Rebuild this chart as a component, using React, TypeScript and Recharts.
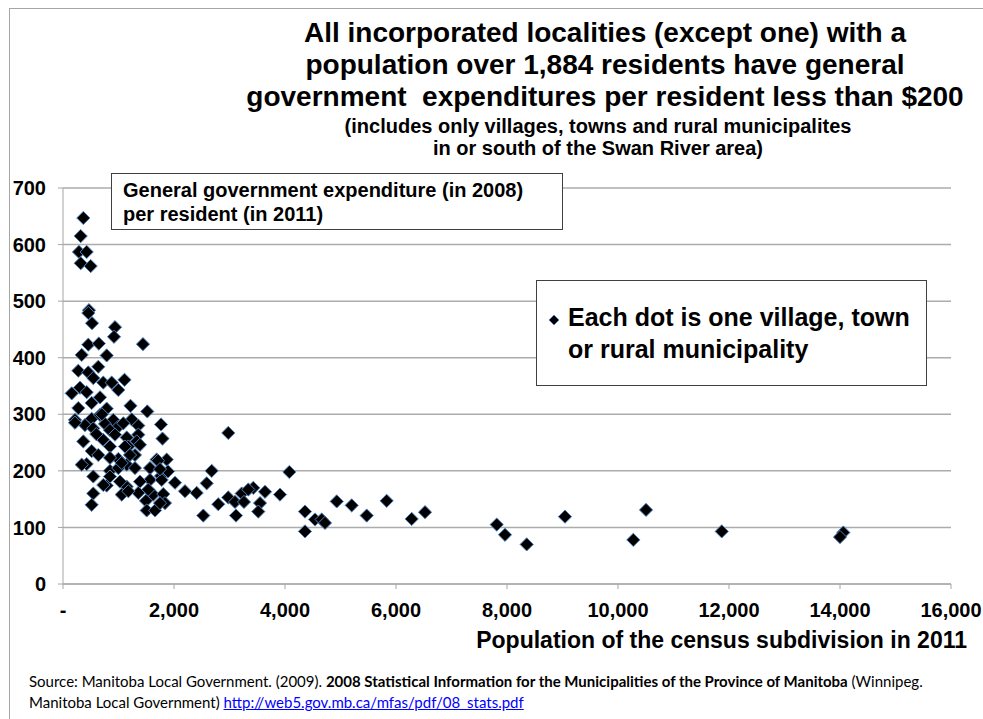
import { ScatterChart, Scatter, XAxis, YAxis, CartesianGrid } from 'recharts'

// population of the census subdivision (2011)
const population = [
  366, 319, 288, 427, 319, 499, 468, 456, 523, 937, 919, 1441, 456, 645, 787, 337,
  636, 276, 456, 546, 1108, 726, 877, 157, 306, 427, 996, 667, 517, 276, 787, 1216,
  1519, 216, 517, 667, 906, 1238, 1766, 396, 546, 757, 996, 1357, 1087, 847, 366, 721,
  937, 1148, 1357, 1793, 1328, 2978, 517, 847, 1177, 1387, 636, 996, 1297, 427, 847, 1688,
  1868, 337, 1148, 1297, 1568, 847, 996, 1058, 2679, 4078, 546, 1766, 1892, 1568, 1387, 1778,
  2018, 2589, 787, 1148, 1027, 726, 1357, 1627, 1807, 2198, 2409, 546, 1058, 3429, 3640, 3910,
  2978, 3220, 1537, 1495, 1838, 517, 2798, 3099, 3261, 3550, 1508, 1658, 3519, 2528, 3117, 4360,
  4360, 4541, 4661, 4721, 4932, 5202, 5472, 5832, 6283, 6523, 7815, 7964, 8355, 9045, 10276, 10505,
  11869, 14060, 14000, 1117, 1207, 1712, 1748, 1748, 1177, 3339, 216, 847, 600, 700,
]

// general government expenditure (2008) per resident (2011), $
const spendPerResident = [
  647, 615, 587, 587, 567, 562, 484, 479, 461, 454, 437, 424, 423, 425, 404, 405,
  384, 377, 374, 364, 361, 356, 356, 337, 347, 339, 343, 330, 320, 311, 310, 315,
  305, 290, 292, 299, 290, 291, 282, 281, 275, 283, 278, 280, 284, 272, 252, 255,
  264, 259, 264, 257, 252, 267, 235, 243, 243, 246, 228, 221, 228, 212, 223, 220,
  220, 211, 211, 205, 205, 200, 205, 214, 200, 198, 190, 191, 199, 184, 181, 184,
  179, 178, 174, 172, 181, 175, 161, 158, 159, 164, 161, 160, 158, 170, 163, 158,
  153, 160, 167, 147, 143, 140, 141, 145, 145, 143, 130, 130, 128, 121, 121, 128,
  93, 114, 114, 108, 146, 139, 121, 147, 115, 127, 105, 87, 70, 119, 78, 131,
  93, 91, 83, 243, 228, 218, 203, 143, 164, 167, 285, 190, 265, 300,
]

const xTicks = [0, 2000, 4000, 6000, 8000, 10000, 12000, 14000, 16000]
const yTicks = [0, 100, 200, 300, 400, 500, 600, 700]

const points = population.map((x, i) => ({ x, y: spendPerResident[i] }))

const bold = { fontFamily: '"Liberation Sans", Arial, sans-serif', fontWeight: 700, color: '#000' }

function Diamond(props: any) {
  const { cx, cy } = props
  const r = 6.6
  return (
    <polygon
      points={`${cx},${cy - r} ${cx + r},${cy} ${cx},${cy + r} ${cx - r},${cy}`}
      fill="#000"
      stroke="#4f81bd"
      strokeWidth={1}
    />
  )
}

const fmtX = (v: number) => (v === 0 ? '-' : v.toLocaleString('en-US'))

export default function App() {
  return (
    <div style={{ position: 'absolute', left: 0, top: 0, width: 983, height: 719, background: '#fff', overflow: 'hidden' }}>
      <div style={{ position: 'absolute', left: 9, top: 8, width: 990, height: 720, borderLeft: '1px solid #a6a6a6', borderTop: '1px solid #a6a6a6' }} />

      <ScatterChart width={983} height={719} margin={{ top: 188, right: 32, bottom: 105, left: 0 }}>
        <CartesianGrid vertical={false} stroke="#acacac" strokeWidth={1.5} />
        <XAxis
          type="number"
          dataKey="x"
          domain={[0, 16000]}
          ticks={xTicks}
          tickFormatter={fmtX}
          stroke="#a6a6a6"
          tickSize={5}
          tickMargin={14}
          tick={{ fill: '#000', fontSize: 20, fontWeight: 700, fontFamily: '"Liberation Sans", Arial' }}
          height={30}
        />
        <YAxis
          type="number"
          dataKey="y"
          domain={[0, 700]}
          ticks={yTicks}
          stroke="#a6a6a6"
          tickSize={5}
          tickMargin={12}
          width={63}
          tick={{ fill: '#000', fontSize: 20, fontWeight: 700, fontFamily: '"Liberation Sans", Arial' }}
        />
        <Scatter data={points} shape={(p: any) => <Diamond {...p} />} isAnimationActive={false} />
      </ScatterChart>

      <div style={{ ...bold, position: 'absolute', left: 205, top: 17, width: 800, textAlign: 'center', fontSize: 28, lineHeight: '32px', whiteSpace: 'pre' }}>
        {'All incorporated localities (except one) with a\npopulation over 1,884 residents have general\ngovernment  expenditures per resident less than $200'}
      </div>
      <div style={{ ...bold, position: 'absolute', left: 198, top: 115, width: 800, textAlign: 'center', fontSize: 20, lineHeight: '22px' }}>
        (includes only villages, towns and rural municipalites
        <br />
        in or south of the Swan River area)
      </div>

      <div style={{ ...bold, position: 'absolute', left: 111, top: 173, width: 452, height: 57, border: '1px solid #404040', background: '#fff', fontSize: 20, lineHeight: '24px', boxSizing: 'border-box', padding: '4px 0 0 11px' }}>
        General government expenditure (in 2008)
        <br />
        per resident (in 2011)
      </div>

      <div style={{ ...bold, position: 'absolute', left: 536, top: 280, width: 391, height: 106, border: '1px solid #404040', background: '#fff', boxSizing: 'border-box', fontSize: 25, lineHeight: '32px', padding: '20px 0 0 31px' }}>
        <svg width={12} height={12} style={{ position: 'absolute', left: 11, top: 33 }}>
          <polygon points="6,1 11,6 6,11 1,6" fill="#000" stroke="#4f81bd" strokeWidth={0.8} />
        </svg>
        Each dot is one village, town
        <br />
        or rural municipality
      </div>

      <div style={{ ...bold, position: 'absolute', right: 16, top: 627, fontSize: 23, lineHeight: '26px' }}>
        Population of the census subdivision in 2011
      </div>

      <div style={{ position: 'absolute', left: 29, top: 671, fontFamily: 'Lato, "Noto Sans", sans-serif', fontSize: 15, lineHeight: '21px', color: '#000', width: 950 }}>
        Source: Manitoba Local Government. (2009). <b>2008 Statistical Information for the Municipalities of the Province of Manitoba</b> (Winnipeg.
        <br />
        Manitoba Local Government){' '}
        <a href="http://web5.gov.mb.ca/mfas/pdf/08_stats.pdf" style={{ color: '#0000ff' }}>http://web5.gov.mb.ca/mfas/pdf/08_stats.pdf</a>
      </div>
    </div>
  )
}
